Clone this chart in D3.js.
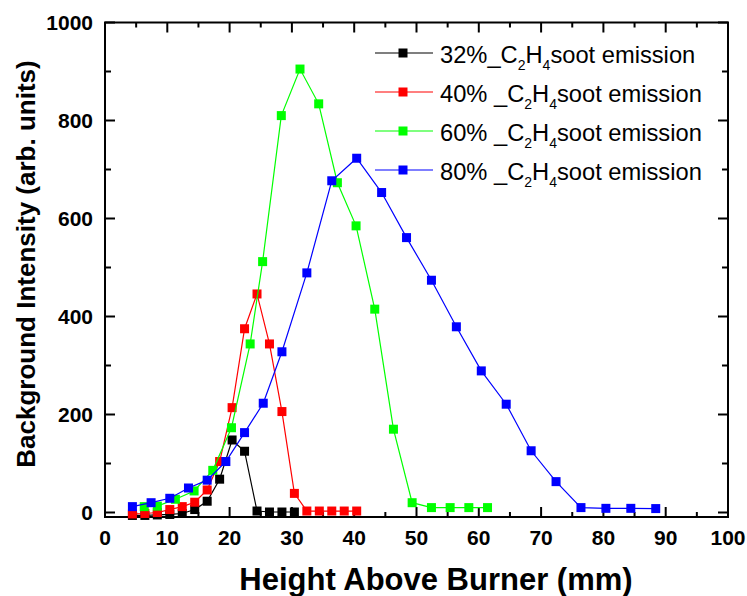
<!DOCTYPE html>
<html><head><meta charset="utf-8">
<script src="https://cdn.jsdelivr.net/npm/d3@7"></script>
<style>body{margin:0;background:#fff}svg{display:block}</style>
</head><body>
<script>
// ---- data ----
const xBlack = [4.4,6.4,8.4,10.4,12.4,14.4,16.4,18.4,20.4,22.4,24.4,26.4,28.4,30.4];
const yBlack = [-6,-6,-5,-4,-2,6,23,68,148,125,3,1,1,1];
const xRed = [4.4,6.4,8.4,10.4,12.4,14.4,16.4,18.4,20.4,22.4,24.4,26.4,28.4,30.4,32.4,34.4,36.4,38.4,40.4];
const yRed = [-3,-2,0,6,12,21,46,104,214,375,446,344,206,39,3,3,3,3,3];
const xGreen = [6.3,8.4,11.3,14.3,17.3,20.3,23.3,25.3,28.3,31.3,34.3,37.3,40.3,43.3,46.3,49.3,52.4,55.4,58.4,61.4];
const yGreen = [12,13,27,44,86,173,344,512,810,905,834,673,585,415,170,20,10,10,10,10];
const xBlue = [4.4,7.4,10.4,13.4,16.4,19.4,22.4,25.4,28.4,32.4,36.4,40.4,44.4,48.4,52.4,56.4,60.4,64.4,68.4,72.4,76.4,80.4,84.4,88.4];
const yBlue = [12,20,29,50,66,104,163,223,328,489,677,723,653,561,474,379,289,221,126,63,10,8.5,8.5,8];
const seriesNames = ["32%", "40% ", "60% ", "80% "];
const seriesColors = ["#000000", "#ff0000", "#00ff00", "#0000ff"];
const xTicks = [0,10,20,30,40,50,60,70,80,90,100];
const yTicks = [0,200,400,600,800,1000];
const xTitle = "Height Above Burner (mm)";
const yTitle = "Background Intensity (arb. units)";

const series = [
  {x: xBlack, y: yBlack},
  {x: xRed, y: yRed},
  {x: xGreen, y: yGreen},
  {x: xBlue, y: yBlue}
].map((s, i) => ({name: seriesNames[i], color: seriesColors[i], pts: s.x.map((v, j) => [v, s.y[j]])}));

const W = 747, H = 596;
const L = 105, R = 728, T = 22.5, B = 517;
const svg = d3.select("body").append("svg").attr("width", W).attr("height", H)
  .style("font-family", "'Liberation Sans', Arial, sans-serif");

const x = d3.scaleLinear().domain([0, 100]).range([L, R]);
const y = d3.scaleLinear().domain([0, 1000]).range([512.5, T]);

// frame
svg.append("rect").attr("x", L).attr("y", T).attr("width", R - L).attr("height", B - T)
  .attr("fill", "none").attr("stroke", "#000").attr("stroke-width", 2);

const xMinor = d3.range(5, 100, 10);
const yMinor = d3.range(100, 1000, 200);
const tk = svg.append("g").attr("stroke", "#000").attr("stroke-width", 2);
xTicks.forEach(v => {
  tk.append("line").attr("x1", x(v)).attr("x2", x(v)).attr("y1", B).attr("y2", B - 10);
  tk.append("line").attr("x1", x(v)).attr("x2", x(v)).attr("y1", T).attr("y2", T + 10);
});
xMinor.forEach(v => {
  tk.append("line").attr("x1", x(v)).attr("x2", x(v)).attr("y1", B).attr("y2", B - 5);
  tk.append("line").attr("x1", x(v)).attr("x2", x(v)).attr("y1", T).attr("y2", T + 5);
});
yTicks.forEach(v => {
  tk.append("line").attr("y1", y(v)).attr("y2", y(v)).attr("x1", L).attr("x2", L + 10);
  tk.append("line").attr("y1", y(v)).attr("y2", y(v)).attr("x1", R).attr("x2", R - 10);
});
yMinor.forEach(v => {
  tk.append("line").attr("y1", y(v)).attr("y2", y(v)).attr("x1", L).attr("x2", L + 6);
  tk.append("line").attr("y1", y(v)).attr("y2", y(v)).attr("x1", R).attr("x2", R - 6);
});

// tick labels
svg.append("g").selectAll("text").data(xTicks).join("text")
  .attr("x", d => x(d)).attr("y", 545).attr("text-anchor", "middle")
  .attr("font-size", 21).attr("font-weight", "bold").text(d => d);
svg.append("g").selectAll("text").data(yTicks).join("text")
  .attr("x", 93).attr("y", d => y(d) + 7.5).attr("text-anchor", "end")
  .attr("font-size", 21).attr("font-weight", "bold").text(d => d);

// titles
svg.append("text").attr("x", 436).attr("y", 590).attr("text-anchor", "middle")
  .attr("font-size", 31).attr("font-weight", "bold").text(xTitle);
svg.append("text").attr("transform", "translate(35,264) rotate(-90)").attr("text-anchor", "middle")
  .attr("font-size", 26).attr("font-weight", "bold").text(yTitle);

// series
const line = d3.line().x(d => x(d[0])).y(d => y(d[1]));
series.forEach(s => {
  const g = svg.append("g");
  g.append("path").attr("d", line(s.pts)).attr("fill", "none").attr("stroke", s.color).attr("stroke-width", 1.2);
  g.selectAll("rect").data(s.pts).join("rect")
    .attr("x", d => x(d[0]) - 4.5).attr("y", d => y(d[1]) - 4.5)
    .attr("width", 9).attr("height", 9).attr("fill", s.color);
});

// legend
const legY = [53, 92, 131, 170];
series.forEach((s, i) => {
  const g = svg.append("g");
  g.append("line").attr("x1", 375).attr("x2", 433).attr("y1", legY[i]).attr("y2", legY[i])
    .attr("stroke", s.color).attr("stroke-width", 1.2);
  g.append("rect").attr("x", 398.5).attr("y", legY[i] - 4.5).attr("width", 9).attr("height", 9).attr("fill", s.color);
  const t = g.append("text").attr("x", 440).attr("y", legY[i] + 9.5).attr("font-size", 23.7);
  t.append("tspan").text(s.name);
  t.append("tspan").text("_C");
  t.append("tspan").attr("font-size", 14).attr("dy", 7).text("2");
  t.append("tspan").attr("dy", -7).text("H");
  t.append("tspan").attr("font-size", 14).attr("dy", 7).text("4");
  t.append("tspan").attr("dy", -7).text("soot emission");
});
</script>
</body></html>
